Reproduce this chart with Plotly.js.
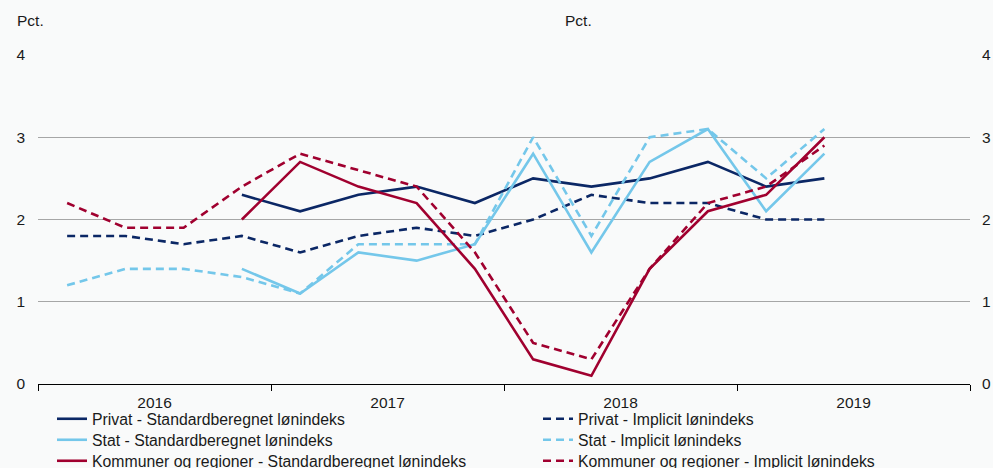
<!DOCTYPE html>
<html>
<head>
<meta charset="utf-8">
<script src="https://cdn.plot.ly/plotly-3.0.1.min.js"></script>
<style>html,body{margin:0;padding:0;background:#f9fafa;}#chart{width:993px;height:468px;}</style>
</head>
<body>
<div id="chart"></div>
<script>
// Quarters 2016K1 .. 2019K2 (index 0..13)
const quarters = ["2016K1","2016K2","2016K3","2016K4","2017K1","2017K2","2017K3","2017K4","2018K1","2018K2","2018K3","2018K4","2019K1","2019K2"];
const yearLabels = ["2016","2017","2018","2019"];

const privatStd  = [null,null,null,2.3,2.1,2.3,2.4,2.2,2.5,2.4,2.5,2.7,2.4,2.5];
const privatImpl = [1.8,1.8,1.7,1.8,1.6,1.8,1.9,1.8,2.0,2.3,2.2,2.2,2.0,2.0];
const statStd    = [null,null,null,1.4,1.1,1.6,1.5,1.7,2.8,1.6,2.7,3.1,2.1,2.8];
const statImpl   = [1.2,1.4,1.4,1.3,1.1,1.7,1.7,1.7,3.0,1.8,3.0,3.1,2.5,3.1];
const kommStd    = [null,null,null,2.0,2.7,2.4,2.2,1.4,0.3,0.1,1.4,2.1,2.3,3.0];
const kommImpl   = [2.2,1.9,1.9,2.4,2.8,2.6,2.4,1.6,0.5,0.3,1.4,2.2,2.4,2.9];

const navy = "#0b2765", light = "#74c7ea", red = "#a0002f";
const xIdx = quarters.map((q,i)=>i);

function tr(name, y, color, dashed, leg){
  return {x:xIdx, y:y, name:name, type:"scatter", mode:"lines", legend:leg,
    line:{color:color, width:2.6, dash: dashed ? "8px,5px" : "solid"},
    hoverinfo:"skip"};
}
const data = [
  tr("Privat - Standardberegnet lønindeks", privatStd, navy, false, "legend"),
  tr("Privat - Implicit lønindeks", privatImpl, navy, true, "legend2"),
  tr("Stat - Standardberegnet lønindeks", statStd, light, false, "legend3"),
  tr("Stat - Implicit lønindeks", statImpl, light, true, "legend4"),
  tr("Kommuner og regioner - Standardberegnet lønindeks", kommStd, red, false, "legend5"),
  tr("Kommuner og regioner - Implicit lønindeks", kommImpl, red, true, "legend6"),
  {x:[0], y:[null], yaxis:"y2", showlegend:false, type:"scatter", mode:"lines", hoverinfo:"skip"}
];

const font = {family:"Liberation Sans, Arial, sans-serif", size:15.5, color:"#1a1a1a"};
const legFont = {family:"Liberation Sans, Arial, sans-serif", size:15.8, color:"#1a1a1a"};
function leg(xpx, ypx){
  return {xref:"container", yref:"container", x:xpx/993, xanchor:"left",
    y:1-ypx/468, yanchor:"middle", font:legFont, bgcolor:"rgba(0,0,0,0)", borderwidth:0};
}
const layout = {
  width:993, height:468,
  paper_bgcolor:"#f9fafa", plot_bgcolor:"#f9fafa",
  margin:{l:38, r:23, t:55, b:84, autoexpand:false},
  font:font,
  showlegend:true,
  xaxis:{
    range:[-0.5,15.5], tickmode:"array",
    tickvals:yearLabels.map((y,i)=>1.5+4*i), ticktext:yearLabels, tickangle:0,
    ticks:"", showgrid:false, zeroline:false, ticklabelstandoff:4, automargin:false,
    showline:true, linecolor:"#000", linewidth:1.2,
    minor:{tick0:-0.5, dtick:4, ticks:"outside", ticklen:6, tickcolor:"#000", tickwidth:1, showgrid:false},
    tickfont:font, fixedrange:true
  },
  yaxis:{
    range:[0,4], tickvals:[0,1,2,3,4], showgrid:true, gridcolor:"#a6a6a6", gridwidth:1, automargin:false,
    zeroline:false, ticks:"", ticklabelstandoff:12, tickfont:font, fixedrange:true
  },
  yaxis2:{
    range:[0,4], tickvals:[0,1,2,3,4], overlaying:"y", side:"right", showgrid:false, automargin:false,
    zeroline:false, ticks:"", ticklabelstandoff:11, tickfont:font, fixedrange:true
  },
  legend:leg(52,419),
  legend2:leg(538,419),
  legend3:leg(52,440),
  legend4:leg(538,440),
  legend5:leg(52,461),
  legend6:leg(538,461),
  annotations:[
    {text:"Pct.", xref:"paper", yref:"paper", x:-0.025, y:1, yshift:35, xanchor:"left", yanchor:"middle", showarrow:false, font:font},
    {text:"Pct.", xref:"paper", yref:"paper", x:0.563, y:1, yshift:35, xanchor:"left", yanchor:"middle", showarrow:false, font:font}
  ]
};
Plotly.newPlot("chart", data, layout, {displayModeBar:false, staticPlot:true});
</script>
</body>
</html>
